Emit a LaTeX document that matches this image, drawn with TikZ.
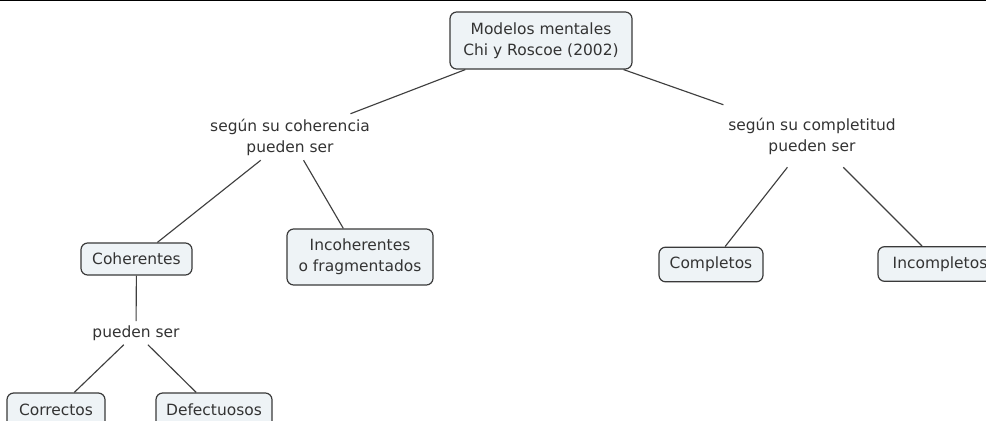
\documentclass[tikz,border=0pt]{standalone}
\usepackage{fontspec}
\setmainfont{DejaVu Sans}
\usetikzlibrary{positioning}
\definecolor{fondocaja}{HTML}{EEF3F6}
\definecolor{grisborde}{HTML}{3A3A3A}
\definecolor{gristexto}{HTML}{333333}
\definecolor{grislinea}{HTML}{3F3F3F}
\tikzset{
  concepto/.style={rectangle, rounded corners=5pt, draw=grisborde, fill=fondocaja, line width=0.9pt,
                   text=gristexto, font=\fontsize{11.6}{15.8}\selectfont, align=center, inner sep=2pt,
                   minimum height=26pt},
  enlace/.style={rectangle, text=gristexto, font=\fontsize{11.6}{15.8}\selectfont, align=center, inner sep=2pt},
  linea/.style={draw=grislinea, line width=0.85pt}
}
\begin{document}
\begin{tikzpicture}[x=0.75pt, y=-0.75pt]
  \useasboundingbox (0,0) rectangle (986,421);
  \fill [white] (0,0) rectangle (986,421);
  \draw [black, line width=2pt] (0,0) -- (986,0);
  % Conceptos
  \node (raiz) [concepto, minimum width=136.5pt, minimum height=42.75pt] at (541,40.5) {Modelos mentales\\ Chi y Roscoe (2002)};
  \node (coh) [concepto, minimum width=83.25pt, minimum height=24pt] at (136.5,259) {Coherentes};
  \node (incoh) [concepto, minimum width=109.5pt, minimum height=42pt] at (360,257) {Incoherentes\\ o fragmentados};
  \node (comp) [concepto, minimum width=78pt] at (711,264.5) {Completos};
  \node (incomp) [concepto, minimum width=93pt] at (940,264) {Incompletos};
  \node (corr) [concepto, minimum width=73.5pt, minimum height=25.5pt] at (56,410) {Correctos};
  \node (defec) [concepto, minimum width=87pt, minimum height=25.5pt] at (214,410) {Defectuosos};
  % Frases de enlace
  \node (enl1) [enlace, minimum width=127.5pt, minimum height=34.5pt] at (290,137) {según su coherencia\\ pueden ser};
  \node (enl2) [enlace, minimum width=133.5pt, minimum height=46.5pt] at (812,136) {según su completitud\\ pueden ser};
  \node (enl3) [enlace, minimum height=17.25pt] at (136,333) {pueden ser};
  % Conectores
  \draw [linea] (raiz) -- (enl1);
  \draw [linea] (raiz) -- (enl2);
  \draw [linea] (enl1) -- (coh);
  \draw [linea] (enl1) -- (incoh);
  \draw [linea] (enl2) -- (comp);
  \draw [linea] (enl2) -- (incomp);
  \draw [linea] (coh) -- (enl3);
  \draw [linea] (enl3) -- (corr);
  \draw [linea] (enl3) -- (defec);
\end{tikzpicture}
\end{document}
